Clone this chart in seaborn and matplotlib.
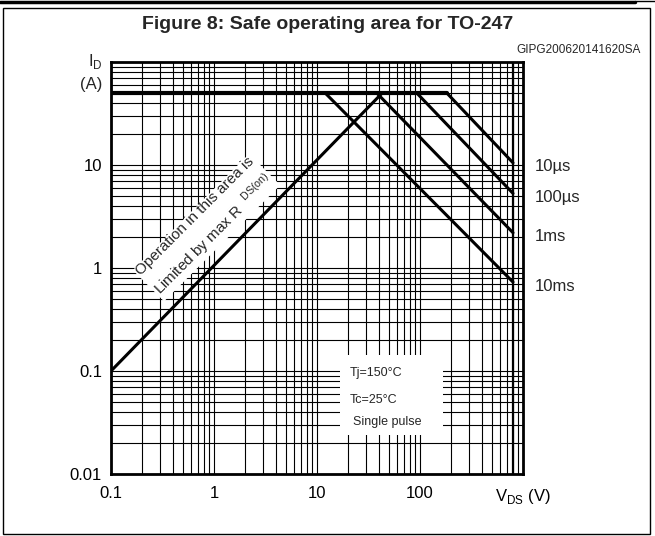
import matplotlib
matplotlib.use('Agg')
from matplotlib import pyplot as plt
from matplotlib.lines import Line2D
from matplotlib.patches import Rectangle
from matplotlib.ticker import LogLocator, NullFormatter
import pandas as pd
import seaborn as sns

# SOA curves: pulse lines go from the ID limit (knee) down to V max
pulses = ['10µs', '100µs', '1ms', '10ms']
v_knee = [182, 93, 38, 12]
i_end = [10.5, 5.3, 2.2, 0.73]
v_max = 800
id_max = 50
v_limit = [0.1, 182]
# RDS(on) limit line
rds_v = [0.1, 43]
rds_i = [0.1, 50]

x_ticks = [0.1, 1, 10, 100, 1000]
x_labels = ['0.1', '1', '10', '100', r'V$_{\rm DS}$ (V)']
y_ticks = [0.01, 0.1, 1, 10]
y_labels = ['0.01', '0.1', '1', '10']

rows = []
for p, vk, ie in zip(pulses, v_knee, i_end):
    rows.append({'pulse': p, 'V': vk, 'I': id_max})
    rows.append({'pulse': p, 'V': v_max, 'I': ie})
df = pd.DataFrame(rows)

sns.set_style('white')
plt.rcParams['font.family'] = ['Liberation Sans', 'DejaVu Sans']
plt.rcParams['mathtext.fontset'] = 'custom'
plt.rcParams['mathtext.rm'] = 'Liberation Sans'

fig = plt.figure(figsize=(6.55, 5.36), dpi=100)
ax = fig.add_axes([111 / 655, 62 / 536, 412 / 655, 412 / 536])
ax.set_xscale('log')
ax.set_yscale('log')
ax.set_xlim(0.1, 1000)
ax.set_ylim(0.01, 100)

for a in (ax.xaxis, ax.yaxis):
    a.set_minor_locator(LogLocator(base=10, subs=range(2, 10), numticks=20))
    a.set_minor_formatter(NullFormatter())
ax.grid(True, which='both', color='black', lw=0.8, zorder=1)
ax.set_axisbelow(True)

ax.set_xticks(x_ticks)
ax.set_xticklabels(x_labels)
ax.set_yticks(y_ticks)
ax.set_yticklabels(y_labels)
ax.tick_params(which='both', length=0, labelsize=12, colors='black')
ax.tick_params(axis='x', pad=9)
ax.tick_params(axis='y', pad=6.5)
for s in ax.spines.values():
    s.set_color('black')
    s.set_linewidth(2)

ax.axvline(v_max, color='black', lw=1.6, zorder=2)

sns.lineplot(data=df, x='V', y='I', units='pulse', estimator=None, color='black',
             lw=2.2, ax=ax, legend=False, zorder=5)
sns.lineplot(x=v_limit, y=[id_max, id_max], color='black', lw=3, ax=ax, zorder=5)
sns.lineplot(x=rds_v, y=rds_i, color='black', lw=2.2, ax=ax, zorder=5)
ax.set_xlabel('')
ax.set_ylabel('')

for p, ie in zip(pulses, i_end):
    ax.annotate(p, xy=(v_max, ie), xytext=(16, -3), textcoords='offset points',
                fontsize=12, va='center', ha='left', annotation_clip=False)

ax.text(0.23, 0.6, 'Operation in this area is\nLimited by max R  $^{\\rm DS(on)}$',
        transform=ax.transAxes, rotation=45, rotation_mode='anchor',
        ha='center', va='center', fontsize=11, linespacing=1.5, zorder=4,
        bbox=dict(fc='white', ec='none', pad=1))

ax.add_patch(Rectangle((0.556, 0.095), 0.25, 0.194, transform=ax.transAxes,
                       fc='white', ec='none', zorder=3))
ax.text(0.58, 0.245, 'Tj=150°C', transform=ax.transAxes, fontsize=9, va='center', zorder=4)
ax.text(0.58, 0.18, 'Tc=25°C', transform=ax.transAxes, fontsize=9, va='center', zorder=4)
ax.text(0.587, 0.126, 'Single pulse', transform=ax.transAxes, fontsize=9, va='center', zorder=4)

fig.text(0.5, 0.955, 'Figure 8: Safe operating area for TO-247', ha='center', va='center',
         fontsize=14, fontweight='bold')
fig.text(0.979, 0.907, 'GIPG200620141620SA', ha='right', va='center', fontsize=8.5)
fig.text(0.156, 0.886, r'I$_{\rm D}$', ha='right', va='center', fontsize=12)
fig.text(0.156, 0.843, '(A)', ha='right', va='center', fontsize=12)

fig.add_artist(Rectangle((3 / 655, 2 / 536), 647 / 655, 526 / 536, transform=fig.transFigure,
                         fill=False, ec='black', lw=1))
fig.add_artist(Line2D([0, 0.97], [0.997, 0.997], transform=fig.transFigure, color='black', lw=2.5))
fig.add_artist(Line2D([0.97, 1], [0.998, 0.998], transform=fig.transFigure, color='black', lw=1))

fig.savefig('out.png', dpi=100)
